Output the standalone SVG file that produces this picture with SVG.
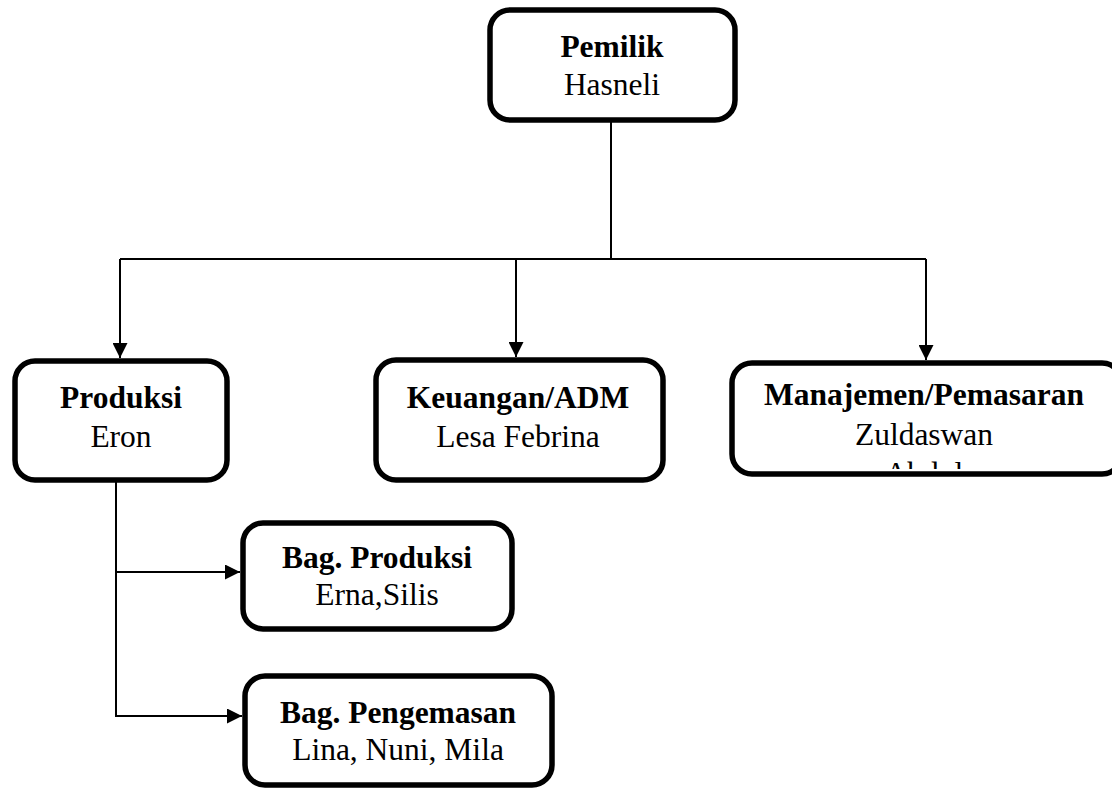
<svg xmlns="http://www.w3.org/2000/svg" width="1112" height="791" viewBox="0 0 1112 791">
  <style>
    .box { fill: #ffffff; stroke: #000000; stroke-width: 5.5; }
    .conn { fill: none; stroke: #000000; stroke-width: 2; }
    .t { font-family: "Liberation Serif", "Times New Roman", serif; font-size: 31.5px; fill: #000000; text-anchor: middle; }
    .b { font-weight: bold; }
  </style>
  <defs>
    <marker id="arrow" viewBox="0 0 10 10" refX="10" refY="5" markerWidth="16" markerHeight="15" markerUnits="userSpaceOnUse" orient="auto">
      <path d="M0,0 L10,5 L0,10 z" fill="#000000"/>
    </marker>
    <clipPath id="clipMan">
      <rect x="733" y="365" width="380" height="104"/>
    </clipPath>
  </defs>
  <rect width="1112" height="791" fill="#ffffff"/>

  <g id="connectors">
    <path class="conn" d="M611,120 V259"/>
    <path class="conn" d="M120,259 H926"/>
    <path class="conn" d="M120,259 V358" marker-end="url(#arrow)"/>
    <path class="conn" d="M516,259 V357" marker-end="url(#arrow)"/>
    <path class="conn" d="M926,259 V360" marker-end="url(#arrow)"/>
    <path class="conn" d="M116,480 V716 H242" marker-end="url(#arrow)"/>
    <path class="conn" d="M116,572 H240" marker-end="url(#arrow)"/>
  </g>

  <g id="pemilik">
    <rect class="box" x="490" y="10" width="245" height="110" rx="20"/>
    <text class="t b" x="612" y="57">Pemilik</text>
    <text class="t" x="612" y="95">Hasneli</text>
  </g>

  <g id="produksi">
    <rect class="box" x="15" y="361" width="212" height="119" rx="20"/>
    <text class="t b" x="121" y="408">Produksi</text>
    <text class="t" x="121" y="447">Eron</text>
  </g>

  <g id="keuangan">
    <rect class="box" x="376" y="360" width="287" height="120" rx="20"/>
    <text class="t b" x="518" y="408">Keuangan/ADM</text>
    <text class="t" x="518" y="447">Lesa Febrina</text>
  </g>

  <g id="manajemen">
    <rect class="box" x="732" y="363" width="390" height="111" rx="20"/>
    <text class="t b" x="924" y="405">Manajemen/Pemasaran</text>
    <text class="t" x="924" y="445">Zuldaswan</text>
    <text class="t" x="924" y="484" clip-path="url(#clipMan)">Abdul</text>
  </g>

  <g id="bag-produksi">
    <rect class="box" x="243" y="523" width="269" height="106" rx="20"/>
    <text class="t b" x="377" y="568">Bag. Produksi</text>
    <text class="t" x="377" y="605">Erna,Silis</text>
  </g>

  <g id="bag-pengemasan">
    <rect class="box" x="245" y="676" width="307" height="109" rx="20"/>
    <text class="t b" x="398" y="723">Bag. Pengemasan</text>
    <text class="t" x="398" y="760">Lina, Nuni, Mila</text>
  </g>
</svg>
